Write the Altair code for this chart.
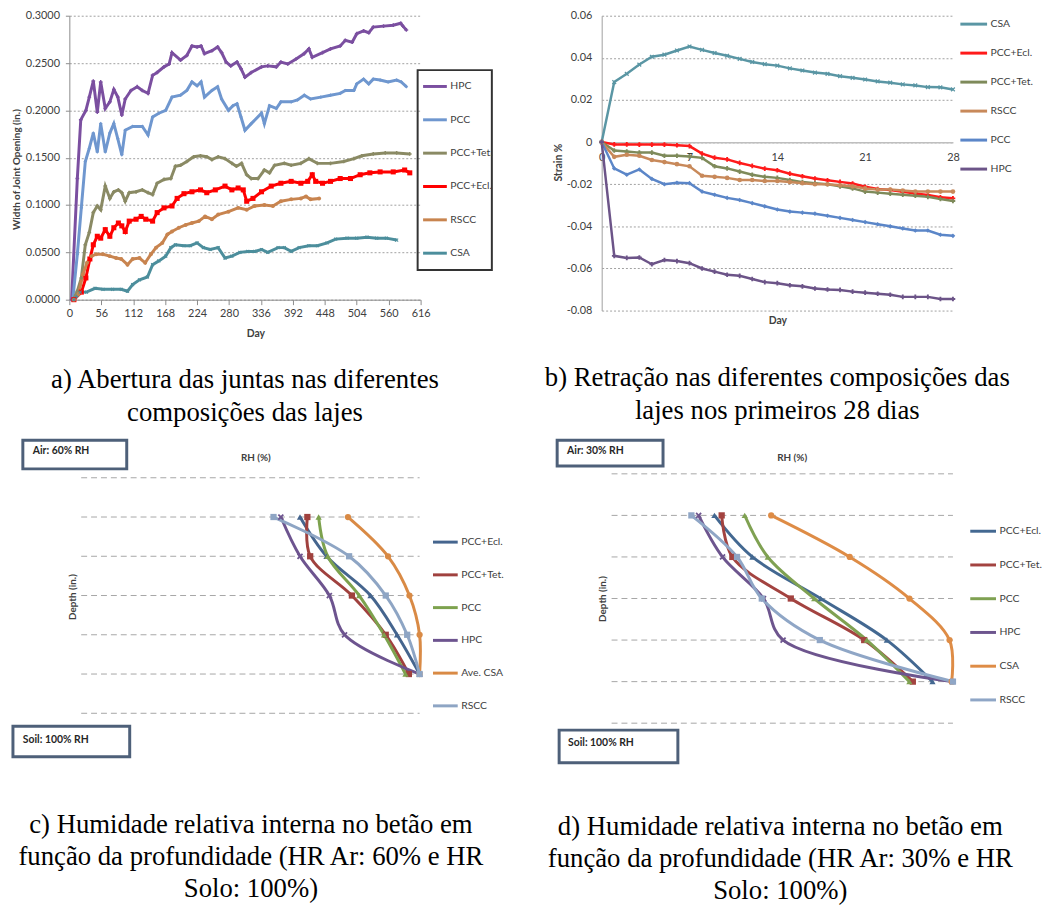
import altair as alt
import pandas as pd

FONT = "Lato"
SERIF = "Liberation Serif"
TXT = "#404040"

# ---------------- Panel a: joint opening ----------------
a_series = ["HPC", "PCC", "PCC+Tet.", "PCC+Ecl.", "RSCC", "CSA"]
a_colors = ["#7B4FA0", "#6F97CF", "#8A8A64", "#FF0000", "#C8844F", "#4C8E9C"]
a_xticks = [0, 56, 112, 168, 224, 280, 336, 392, 448, 504, 560, 616]
a_yticks = [0.0, 0.05, 0.1, 0.15, 0.2, 0.25, 0.3]

a_hpc_day = [4, 14, 20, 29, 35, 42, 49, 55, 63, 71, 78, 85, 92, 98, 108, 119, 128, 138, 146, 154,
             166, 175, 180, 195, 206, 215, 224, 231, 237, 250, 260, 267, 275, 283, 294, 301, 308, 319, 337, 348,
             363, 371, 383, 397, 412, 420, 426, 444, 458, 475, 484, 496, 504, 516, 525, 533, 551, 568, 581, 585, 591]
a_hpc_val = [0, 0.128, 0.190, 0.200, 0.214, 0.231, 0.198, 0.230, 0.202, 0.209, 0.222, 0.214, 0.195, 0.212, 0.221, 0.225, 0.221, 0.218, 0.237, 0.240,
             0.246, 0.249, 0.261, 0.253, 0.258, 0.268, 0.267, 0.268, 0.260, 0.263, 0.267, 0.261, 0.251, 0.247, 0.251, 0.244, 0.235, 0.240, 0.246, 0.247,
             0.246, 0.251, 0.249, 0.254, 0.260, 0.265, 0.256, 0.261, 0.265, 0.268, 0.274, 0.272, 0.281, 0.284, 0.282, 0.288, 0.289, 0.290, 0.292, 0.289, 0.285]

a_pcc_day = [6, 14, 21, 28, 35, 42, 49, 55, 63, 71, 78, 85, 92, 98, 111, 128, 138, 146, 157, 169,
             180, 195, 206, 215, 224, 231, 237, 250, 260, 267, 279, 287, 294, 301, 308, 319, 337, 342, 351, 363,
             371, 389, 400, 412, 423, 441, 458, 475, 484, 499, 504, 516, 525, 533, 545, 559, 574, 582, 591]
a_pcc_val = [0, 0.048, 0.097, 0.146, 0.160, 0.176, 0.156, 0.186, 0.156, 0.176, 0.186, 0.170, 0.153, 0.179, 0.183, 0.183, 0.174, 0.193, 0.197, 0.200,
             0.214, 0.216, 0.221, 0.230, 0.226, 0.230, 0.214, 0.221, 0.225, 0.212, 0.200, 0.205, 0.207, 0.193, 0.179, 0.186, 0.197, 0.186, 0.205, 0.202,
             0.209, 0.209, 0.211, 0.216, 0.212, 0.214, 0.216, 0.218, 0.221, 0.221, 0.228, 0.233, 0.228, 0.233, 0.232, 0.230, 0.232, 0.230, 0.225]

a_tet_day = [7, 14, 21, 28, 35, 42, 49, 55, 63, 71, 78, 86, 92, 98, 105, 117, 128, 138, 146, 154,
             166, 178, 186, 195, 206, 218, 230, 241, 250, 261, 273, 285, 293, 302, 311, 319, 331, 342, 351, 360,
             377, 389, 406, 420, 435, 458, 481, 499, 513, 533, 554, 574, 597]
a_tet_val = [0, 0.009, 0.023, 0.058, 0.071, 0.092, 0.099, 0.095, 0.120, 0.107, 0.114, 0.116, 0.113, 0.104, 0.113, 0.114, 0.116, 0.113, 0.111, 0.123,
             0.127, 0.128, 0.141, 0.142, 0.146, 0.151, 0.152, 0.151, 0.148, 0.151, 0.149, 0.144, 0.141, 0.144, 0.132, 0.128, 0.128, 0.137, 0.134, 0.142,
             0.144, 0.142, 0.144, 0.149, 0.144, 0.144, 0.146, 0.149, 0.152, 0.154, 0.155, 0.155, 0.154]

a_ecl_day = [8, 21, 29, 36, 42, 49, 55, 63, 71, 78, 86, 92, 98, 105, 117, 126, 134, 146, 154, 166,
             180, 189, 201, 215, 230, 241, 256, 273, 285, 296, 305, 311, 322, 337, 354, 371, 389, 406, 418, 426,
             432, 444, 458, 475, 493, 510, 527, 545, 568, 588, 597]
a_ecl_val = [0, 0.008, 0.023, 0.043, 0.058, 0.067, 0.065, 0.074, 0.067, 0.076, 0.081, 0.078, 0.072, 0.083, 0.085, 0.088, 0.085, 0.083, 0.092, 0.097,
             0.099, 0.107, 0.112, 0.114, 0.116, 0.113, 0.116, 0.120, 0.116, 0.118, 0.116, 0.104, 0.107, 0.114, 0.120, 0.123, 0.125, 0.123, 0.125, 0.132,
             0.125, 0.123, 0.125, 0.128, 0.128, 0.132, 0.134, 0.135, 0.135, 0.137, 0.134]

a_rscc_day = [8, 16, 24, 31, 39, 47, 59, 71, 82, 91, 102, 111, 123, 133, 143, 152, 163, 172, 180, 192,
              204, 215, 227, 238, 250, 261, 279, 296, 311, 325, 342, 357, 371, 389, 406, 415, 423, 438]
a_rscc_val = [0, 0.006, 0.027, 0.039, 0.046, 0.048, 0.048, 0.046, 0.044, 0.043, 0.037, 0.043, 0.044, 0.039, 0.048, 0.055, 0.060, 0.069, 0.072, 0.076,
              0.079, 0.081, 0.083, 0.088, 0.085, 0.090, 0.093, 0.097, 0.095, 0.099, 0.100, 0.099, 0.104, 0.106, 0.107, 0.109, 0.106, 0.107]

a_csa_day = [8, 19, 30, 45, 59, 76, 91, 102, 111, 123, 137, 146, 157, 169, 178, 186, 201, 212, 224, 235,
             247, 261, 273, 285, 299, 313, 325, 337, 348, 366, 377, 389, 403, 420, 435, 452, 467, 487, 504, 522,
             539, 556, 574]
a_csa_val = [0, 0.008, 0.008, 0.012, 0.011, 0.011, 0.011, 0.009, 0.016, 0.021, 0.024, 0.037, 0.041, 0.046, 0.055, 0.058, 0.057, 0.057, 0.060, 0.055,
             0.053, 0.055, 0.044, 0.046, 0.050, 0.051, 0.051, 0.053, 0.050, 0.055, 0.055, 0.051, 0.055, 0.057, 0.057, 0.060, 0.064, 0.065, 0.065, 0.066,
             0.065, 0.065, 0.063]

# ---------------- Panel b: strain ----------------
b_series = ["CSA", "PCC+Ecl.", "PCC+Tet.", "RSCC", "PCC", "HPC"]
b_colors = ["#5A96A4", "#FF1A1A", "#7E8A5A", "#C8895A", "#5B86C8", "#6C5488"]
b_days = list(range(0, 29))
b_xticks = [0, 7, 14, 21, 28]
b_yticks = [-0.08, -0.06, -0.04, -0.02, 0, 0.02, 0.04, 0.06]
b_csa = [0, 0.0285, 0.0324, 0.0368, 0.0405, 0.0415, 0.0435, 0.0454, 0.0438, 0.0423, 0.041, 0.0395, 0.038, 0.037, 0.0363,
         0.035, 0.034, 0.033, 0.0324, 0.0313, 0.0305, 0.0297, 0.0288, 0.0282, 0.0274, 0.0269, 0.0261, 0.026, 0.025]
b_ecl = [0, -0.0011, -0.0011, -0.0012, -0.0012, -0.0012, -0.0015, -0.0019, -0.0055, -0.0074, -0.0082, -0.0099, -0.0113, -0.0126, -0.0134,
         -0.015, -0.0162, -0.0173, -0.0181, -0.0189, -0.0197, -0.0212, -0.0223, -0.0228, -0.0236, -0.0244, -0.0251, -0.0262, -0.0267]
b_tet = [0, -0.004, -0.0045, -0.005, -0.005, -0.0065, -0.0065, -0.0068, -0.0075, -0.0115, -0.0125, -0.014, -0.0155, -0.0165, -0.017,
         -0.018, -0.019, -0.0195, -0.020, -0.021, -0.022, -0.0235, -0.024, -0.0245, -0.025, -0.0255, -0.026, -0.027, -0.028]
b_rscc = [0, -0.007, -0.006, -0.0065, -0.0085, -0.0095, -0.0105, -0.0115, -0.016, -0.0165, -0.017, -0.018, -0.018, -0.0185, -0.0185,
          -0.019, -0.0195, -0.020, -0.020, -0.0205, -0.021, -0.022, -0.0225, -0.0225, -0.023, -0.0235, -0.0235, -0.0235, -0.0235]
b_pcc = [0, -0.0125, -0.0155, -0.013, -0.0175, -0.020, -0.0193, -0.0195, -0.0235, -0.025, -0.0265, -0.0275, -0.029, -0.0305, -0.032,
         -0.033, -0.0335, -0.034, -0.035, -0.036, -0.037, -0.038, -0.039, -0.040, -0.041, -0.042, -0.042, -0.044, -0.0445]
b_hpc = [0, -0.054, -0.055, -0.0548, -0.058, -0.056, -0.0565, -0.0575, -0.060, -0.0615, -0.063, -0.0635, -0.065, -0.0665, -0.067,
         -0.068, -0.0685, -0.0695, -0.070, -0.0702, -0.071, -0.0715, -0.072, -0.0725, -0.0735, -0.0735, -0.0735, -0.0745, -0.0745]

XSHAPE = "M-1,-0.6L-0.6,-1L0,-0.4L0.6,-1L1,-0.6L0.4,0L1,0.6L0.6,1L0,0.4L-0.6,1L-1,0.6L-0.4,0Z"
a_shapes = ["cross", "diamond", "cross", "square", "circle", XSHAPE]
a_sizes = [14, 14, 14, 26, 16, 14]
b_shapes = [XSHAPE, "cross", "cross", "circle", "diamond", "cross"]

# ---------------- Panels c, d: RH profiles ----------------
depths = [1, 2, 3, 4, 5]
grid_depths = [0, 1, 2, 3, 4, 5, 6]

c_series = ["PCC+Ecl.", "PCC+Tet.", "PCC", "HPC", "Ave. CSA", "RSCC"]
c_colors = ["#45658E", "#A0413E", "#7DA24E", "#6D548F", "#D98A45", "#8EA5C4"]
c_rh = [
    [78.8, 83.5, 91.3, 96.0, 100.0],
    [80.1, 80.6, 88.0, 94.0, 98.1],
    [82.1, 83.7, 89.3, 93.7, 97.5],
    [75.4, 78.8, 84.0, 86.7, 100.0],
    [87.3, 94.4, 98.2, 100.0, 100.0],
    [74.1, 87.5, 94.0, 97.8, 100.0],
]
c_grid_from, c_grid_to = 40, 100

d_series = ["PCC+Ecl.", "PCC+Tet.", "PCC", "HPC", "CSA", "RSCC"]
d_colors = ["#436891", "#A34340", "#7FA152", "#6D558E", "#DE8C46", "#8FA6C6"]
d_rh = [
    [44.1, 53.0, 69.0, 84.5, 95.2],
    [45.8, 48.3, 62.0, 79.2, 90.6],
    [51.2, 56.6, 67.5, 79.8, 89.8],
    [40.4, 46.0, 55.6, 60.2, 99.8],
    [57.4, 75.8, 89.8, 99.2, 99.7],
    [38.7, 49.4, 55.2, 68.8, 100.0],
]
d_grid_from, d_grid_to = 20, 100
rh_shapes = ["triangle-up", "square", "triangle-up", XSHAPE, "circle", "square"]

cap_a = ["a) Abertura das juntas nas diferentes", "composições das lajes"]
cap_b = ["b) Retração nas diferentes composições das", "lajes nos primeiros 28 dias"]
cap_c = ["c) Humidade relativa interna no betão em", "função da profundidade (HR Ar: 60% e HR", "Solo: 100%)"]
cap_d = ["d) Humidade relativa interna no betão em", "função da profundidade (HR Ar: 30% e HR", "Solo: 100%)"]


def long_df(names, xs, ys, xname, yname):
    rows = []
    for s, xl, yl in zip(names, xs, ys):
        for xv, yv in zip(xl, yl):
            rows.append({"series": s, xname: xv, yname: yv})
    return pd.DataFrame(rows)


def caption(lines, offset, dx=0, lh=33):
    return alt.TitleParams(text=lines, orient="bottom", anchor="middle", frame="group",
                           offset=offset, dx=dx, font=SERIF, fontSize=27, fontWeight="normal",
                           color="#000000", lineHeight=lh, baseline="top")


def legend(x, y, size, rowpad):
    return alt.Legend(title=None, orient="none", legendX=x, legendY=y, symbolType="stroke",
                      symbolSize=size, symbolStrokeWidth=3, rowPadding=rowpad, padding=0,
                      labelFont=FONT, labelFontSize=10.5, labelColor=TXT, labelOffset=2)


def point_layers(df, names, colors, shapes, xf, yf, sizes):
    out = []
    for s, c, sh, sz in zip(names, colors, shapes, sizes):
        out.append(alt.Chart(df).transform_filter(alt.datum.series == s).mark_point(
            filled=True, opacity=1, size=sz, color=c, shape=sh).encode(x=xf, y=yf))
    return out


# ---------- build a ----------
df_a = long_df(a_series,
               [a_hpc_day, a_pcc_day, a_tet_day, a_ecl_day, a_rscc_day, a_csa_day],
               [a_hpc_val, a_pcc_val, a_tet_val, a_ecl_val, a_rscc_val, a_csa_val], "day", "value")

a_xaxis = alt.Axis(values=a_xticks, title="Day", grid=False, domainColor="#8C8C8C", tickColor="#8C8C8C",
                   tickSize=5, labelFont=FONT, labelFontSize=11, labelColor=TXT, labelPadding=3,
                   labelFlush=False, labelOverlap=False, labelBound=False, titleFont=FONT,
                   titleFontSize=10.5, titleFontWeight="bold", titleColor=TXT, titleX=188, titleY=34,
                   titleBaseline="middle")
a_yaxis = alt.Axis(values=a_yticks, format=".4f", grid=True, gridColor="#A0A0A0", gridDash=[2, 2],
                   domainColor="#8C8C8C", tickColor="#8C8C8C", tickSize=4, labelPadding=6,
                   labelFont=FONT, labelFontSize=11, labelColor=TXT, labelFlush=False, labelOverlap=False,
                   title="Width of Joint Opening (in.)", titleFont=FONT, titleFontSize=10,
                   titleFontWeight="bold", titleColor=TXT, titleX=-53, titleY=155, titleBaseline="middle")
a_xs = alt.Scale(domain=[0, 616], nice=False, zero=False)
a_ys = alt.Scale(domain=[0, 0.3], nice=False)

a_lines = alt.Chart(df_a).mark_line(strokeWidth=3).encode(
    x=alt.X("day:Q", scale=a_xs, axis=a_xaxis),
    y=alt.Y("value:Q", scale=a_ys, axis=a_yaxis),
    color=alt.Color("series:N", scale=alt.Scale(domain=a_series, range=a_colors),
                    legend=legend(356, 58, 576, 13.7)),
)
a_pts = point_layers(df_a, a_series, a_colors, a_shapes,
                     alt.X("day:Q", scale=a_xs, axis=a_xaxis), alt.Y("value:Q", scale=a_ys, axis=a_yaxis),
                     a_sizes)
a_box = alt.Chart(pd.DataFrame({"k": [0]})).mark_rect(fill="white", fillOpacity=0, stroke="#333333",
                                                       strokeWidth=2).encode(
    x=alt.value(352), x2=alt.value(427), y=alt.value(55), y2=alt.value(257))
panel_a = alt.layer(a_lines, *a_pts, a_box).properties(width=355, height=287, title=caption(cap_a, 29))

# ---------- build b ----------
df_b = long_df(b_series, [b_days] * 6, [b_csa, b_ecl, b_tet, b_rscc, b_pcc, b_hpc], "day", "value")
b_lab = ("datum.value == 0 ? '0' : (datum.value < 0 ? '-' + format(-datum.value, '.2f') "
         ": format(datum.value, '.2f'))")
b_x = alt.X("day:Q", scale=alt.Scale(domain=[0, 28], nice=False, zero=False),
            axis=alt.Axis(values=b_xticks, title="Day", offset=-170, grid=False, domainColor="#BFBFBF",
                          domainWidth=1.5, ticks=False, tickSize=0, labelPadding=9, labelFlush=False,
                          labelOverlap=False, labelFont=FONT, labelFontSize=11, labelColor=TXT, titleFont=FONT,
                          titleFontSize=10.5, titleFontWeight="bold", titleColor=TXT, titleX=177.5,
                          titleY=180, titleBaseline="middle"))
b_y = alt.Y("value:Q", scale=alt.Scale(domain=[-0.08, 0.06], nice=False, zero=False),
            axis=alt.Axis(values=b_yticks, labelExpr=b_lab, grid=True, gridColor="#A0A0A0", gridDash=[2, 2],
                          ticks=False, tickSize=0, labelPadding=10, domainColor="#A0A0A0",
                          labelFont=FONT, labelFontSize=11, labelColor=TXT, labelFlush=False,
                          labelOverlap=False, title="Strain %", titleFont=FONT, titleFontSize=10.5,
                          titleFontWeight="bold", titleColor=TXT, titleX=-44, titleY=148,
                          titleBaseline="middle"))
b_lines = alt.Chart(df_b).mark_line(strokeWidth=2.5).encode(
    x=b_x, y=b_y,
    color=alt.Color("series:N", scale=alt.Scale(domain=b_series, range=b_colors),
                    legend=legend(361, -6.5, 729, 8.3)),
)
b_pts = point_layers(df_b, b_series, b_colors, b_shapes, b_x, b_y, [22] * 6)
panel_b = alt.layer(b_lines, *b_pts).properties(width=355, height=298, title=caption(cap_b, 40))


# ---------- build c, d ----------
def rh_panel(names, colors, rh, x_dom, y_dom, height, gfrom, gto, rh_title_x, depth_title_x,
             depth_title_y, leg, air_text, soil_text, air_box, soil_box, air_pos, soil_pos, cap, cap_off, cap_dx):
    df = long_df(names, rh, [depths] * len(names), "rh", "depth")
    grid = pd.DataFrame({"depth": grid_depths, "g0": [gfrom] * len(grid_depths), "g1": [gto] * len(grid_depths)})
    xs = alt.Scale(domain=x_dom, nice=False, zero=False)
    ys = alt.Scale(domain=y_dom, nice=False, zero=False, reverse=True)
    rules = alt.Chart(grid).mark_rule(color="#A6A6A6", strokeDash=[6, 4], strokeWidth=1).encode(
        x=alt.X("g0:Q", scale=xs,
                axis=alt.Axis(orient="top", title="RH (%)", labels=False, ticks=False, domain=False, grid=False,
                              titleFont=FONT, titleFontSize=10, titleFontWeight="bold", titleColor=TXT,
                              titleX=rh_title_x, titleY=-16, titleBaseline="middle")),
        x2="g1:Q",
        y=alt.Y("depth:Q", scale=ys,
                axis=alt.Axis(title="Depth (in.)", labels=False, ticks=False, domain=False, grid=False,
                              titleFont=FONT, titleFontSize=10, titleFontWeight="bold", titleColor=TXT,
                              titleX=depth_title_x, titleY=depth_title_y, titleBaseline="middle")),
    )
    lines = alt.Chart(df).mark_line(strokeWidth=3, interpolate="catmull-rom").encode(
        x=alt.X("rh:Q", scale=xs), y=alt.Y("depth:Q", scale=ys), order="depth:Q",
        color=alt.Color("series:N", scale=alt.Scale(domain=names, range=colors), legend=leg),
    )
    pts = point_layers(df, names, colors, rh_shapes, "rh:Q", "depth:Q", [40] * len(names))
    layers = [rules, lines] + pts
    for txt, box, pos in [(air_text, air_box, air_pos), (soil_text, soil_box, soil_pos)]:
        src = alt.Chart(pd.DataFrame({"label": [txt]}))
        layers.append(src.mark_rect(fill="white", stroke="#4E6079", strokeWidth=3).encode(
            x=alt.value(box[0]), x2=alt.value(box[1]), y=alt.value(box[2]), y2=alt.value(box[3])))
        layers.append(src.mark_text(align="left", baseline="middle", font=FONT, fontSize=10.5,
                                    fontWeight="bold", color="#262626").encode(
            x=alt.value(pos[0]), y=alt.value(pos[1]), text="label:N"))
    return alt.layer(*layers).properties(width=355, height=height,
                                         title=caption(cap, cap_off, cap_dx, 32.5))


panel_c = rh_panel(c_series, c_colors, c_rh, [37.9, 100.18], [-0.1, 6], 242, c_grid_from, c_grid_to,
                   188, 3, 124, legend(366, 55, 625, 13.1), "Air: 60% RH", "Soil: 100% RH",
                   (-47, 58, -34, -5), (-57, 61, 255, 286), (-37, -23), (-47, 269), cap_c, 54, 6)
panel_d = rh_panel(d_series, d_colors, d_rh, [17.68, 100], [0, 6], 252, d_grid_from, d_grid_to,
                   192, 1, 126, legend(371, 43.5, 676, 13.1), "Air: 30% RH", "Soil: 100% RH",
                   (-45, 62, -34, -8), (-43, 77, 259, 292), (-35, -23), (-34, 272), cap_d, 50, 3)

chart = alt.concat(panel_a, panel_b, panel_c, panel_d, columns=2,
                   spacing={"row": 165, "column": 183}, bounds="flush").resolve_scale(
    color="independent", x="independent", y="independent"
).resolve_legend(color="independent").properties(
    padding={"left": 3, "top": -4, "right": 0, "bottom": 0}, background="white"
).configure_view(stroke=None)

chart.save("out.html", embed_options={"renderer": "svg", "actions": False})
